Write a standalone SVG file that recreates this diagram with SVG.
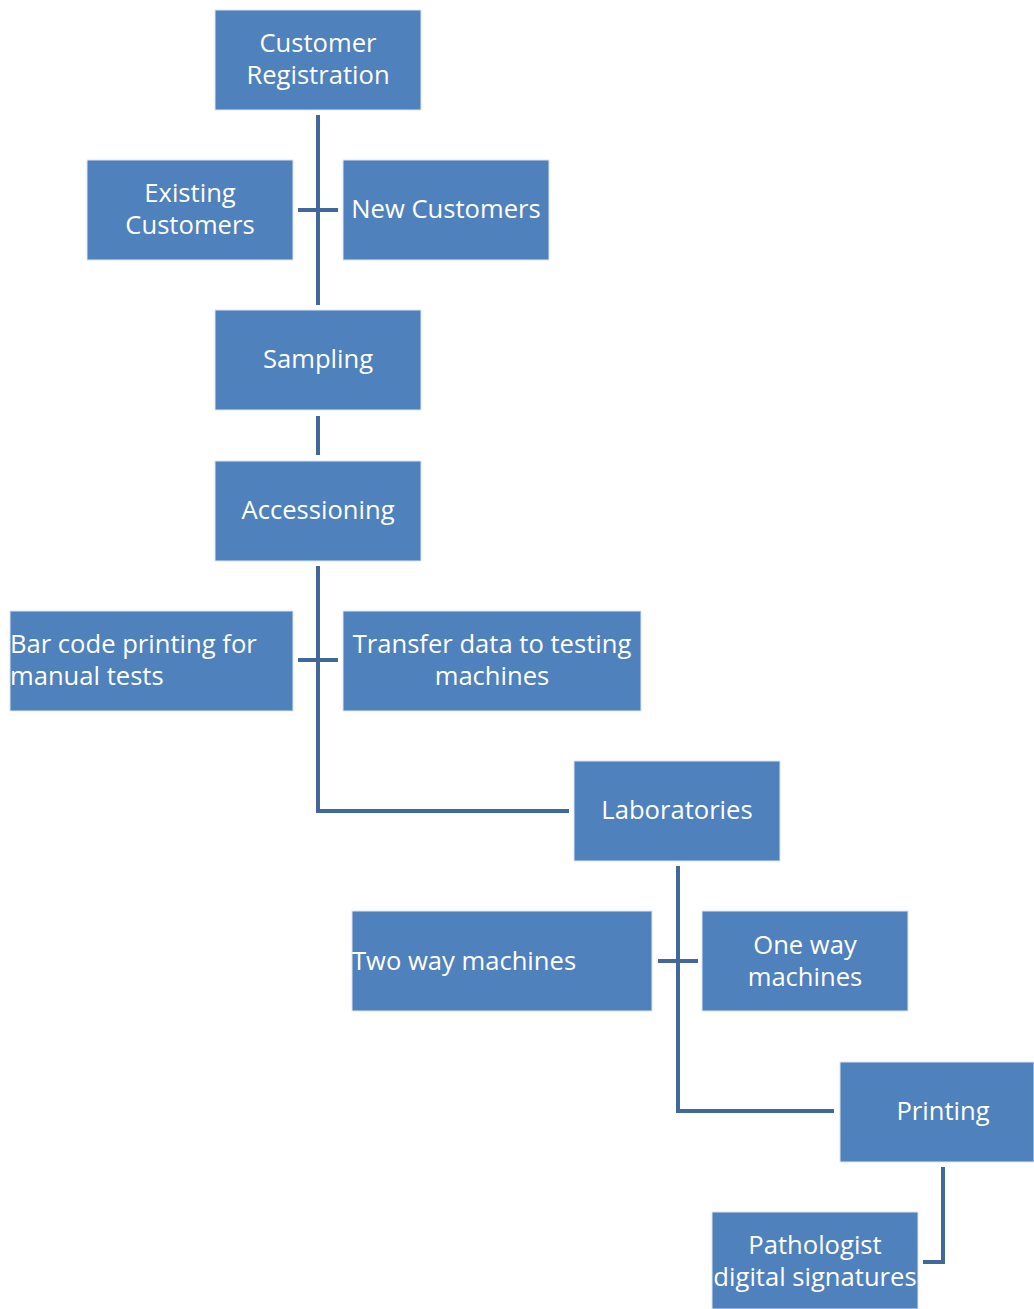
<svg xmlns="http://www.w3.org/2000/svg" width="1034" height="1309" viewBox="0 0 1034 1309">
<style>
.box{fill:#4F81BD;stroke:#DDE6F2;stroke-width:1}
.t{font-family:"Open Sans","Liberation Sans",sans-serif;font-size:25.6px;fill:#FFFFFF;text-anchor:middle}
.l{text-anchor:start}
.c{fill:none;stroke:#41689A;stroke-width:4;stroke-linecap:butt;stroke-linejoin:miter}
</style>
<rect width="1034" height="1309" fill="#FFFFFF"/>
<g id="connectors">
<path class="c" d="M318 115V305M298 210H338"/>
<path class="c" d="M318 416V455"/>
<path class="c" d="M318 566V811H569M298 660H338"/>
<path class="c" d="M678 866V1111H834M658 961H698"/>
<path class="c" d="M943 1167V1262H923"/>
</g>
<g id="customer-registration"><rect class="box" x="215" y="10" width="206" height="100"/><text class="t" x="318" y="52">Customer</text><text class="t" x="318" y="84">Registration</text></g>
<g id="existing-customers"><rect class="box" x="87" y="160" width="206" height="100"/><text class="t" x="190" y="202">Existing</text><text class="t" x="190" y="234">Customers</text></g>
<g id="new-customers"><rect class="box" x="343" y="160" width="206" height="100"/><text class="t" x="446" y="218">New Customers</text></g>
<g id="sampling"><rect class="box" x="215" y="310" width="206" height="100"/><text class="t" x="318" y="368">Sampling</text></g>
<g id="accessioning"><rect class="box" x="215" y="461" width="206" height="100"/><text class="t" x="318" y="519">Accessioning</text></g>
<g id="bar-code"><rect class="box" x="10" y="611" width="283" height="100"/><text class="t l" x="10" y="653">Bar code printing for</text><text class="t l" x="10" y="685">manual tests</text></g>
<g id="transfer-data"><rect class="box" x="343" y="611" width="298" height="100"/><text class="t" x="492" y="653">Transfer data to testing</text><text class="t" x="492" y="685">machines</text></g>
<g id="laboratories"><rect class="box" x="574" y="761" width="206" height="100"/><text class="t" x="677" y="819">Laboratories</text></g>
<g id="two-way"><rect class="box" x="352" y="911" width="300" height="100"/><text class="t l" x="352" y="970">Two way machines</text></g>
<g id="one-way"><rect class="box" x="702" y="911" width="206" height="100"/><text class="t" x="805" y="954">One way</text><text class="t" x="805" y="986">machines</text></g>
<g id="printing"><rect class="box" x="840" y="1062" width="194" height="100"/><text class="t" x="943" y="1120">Printing</text></g>
<g id="pathologist"><rect class="box" x="712" y="1212" width="206" height="97"/><text class="t" x="815" y="1254">Pathologist</text><text class="t" x="815" y="1286">digital signatures</text></g>
</svg>
